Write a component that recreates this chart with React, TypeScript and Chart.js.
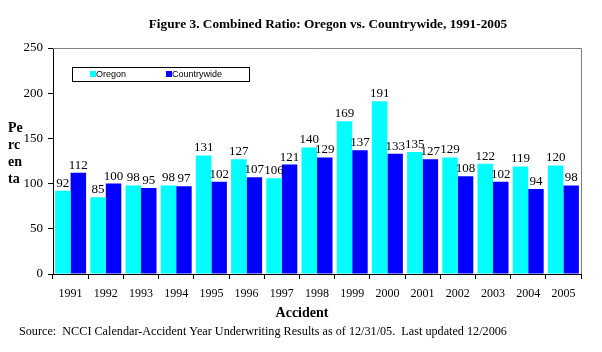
import React, { useEffect, useRef } from "react";
import { Chart, registerables } from "chart.js";

Chart.register(...registerables);

const years = ["1991","1992","1993","1994","1995","1996","1997","1998","1999","2000","2001","2002","2003","2004","2005"];
const oregon = [92, 85, 98, 98, 131, 127, 106, 140, 169, 191, 135, 129, 122, 119, 120];
const countrywide = [112, 100, 95, 97, 102, 107, 121, 129, 137, 133, 127, 108, 102, 94, 98];
const yTicks = [0, 50, 100, 150, 200, 250];

const SERIF = "'Liberation Serif', 'Times New Roman', serif";
const SANS = "'Liberation Sans', Arial, sans-serif";

const decorPlugin = {
  id: "decor",
  afterDatasetsDraw(chart: any) {
    const ctx = chart.ctx;
    const { left, right, top, bottom } = chart.chartArea;
    ctx.save();
    // grey border top/right
    ctx.strokeStyle = "#808080";
    ctx.lineWidth = 1;
    ctx.beginPath();
    ctx.moveTo(left, top + 0.5);
    ctx.lineTo(right + 0.5, top + 0.5);
    ctx.lineTo(right + 0.5, bottom);
    ctx.stroke();

    // data labels
    ctx.fillStyle = "#000";
    ctx.font = `13px ${SERIF}`;
    ctx.textAlign = "center";
    ctx.textBaseline = "bottom";
    chart.data.datasets.forEach((ds: any, di: number) => {
      const meta = chart.getDatasetMeta(di);
      meta.data.forEach((bar: any, i: number) => {
        ctx.fillText(String(ds.data[i]), bar.x, bar.y - 1);
      });
    });

    // title
    ctx.font = `bold 13.3px ${SERIF}`;
    ctx.textBaseline = "middle";
    ctx.fillText("Figure 3. Combined Ratio: Oregon vs. Countrywide, 1991-2005", 328, 25);

    // x title
    ctx.font = `bold 14px ${SERIF}`;
    ctx.fillText("Accident", 302, 313);

    // y title
    ctx.textAlign = "left";
    ctx.font = `bold 14px ${SERIF}`;
    ["Pe", "rc", "en", "ta"].forEach((t, i) => {
      ctx.fillText(t, 8, 128 + i * 17);
    });

    // source
    ctx.font = `12.2px ${SERIF}`;
    ctx.fillText("Source:  NCCI Calendar-Accident Year Underwriting Results as of 12/31/05.  Last updated 12/2006", 19, 332);

    // legend
    ctx.fillStyle = "#fff";
    ctx.fillRect(72, 67, 177, 14);
    ctx.strokeStyle = "#000";
    ctx.strokeRect(72.5, 67.5, 177, 14);
    ctx.fillStyle = "#00FFFF";
    ctx.fillRect(90, 71, 6, 6);
    ctx.fillStyle = "#0000FF";
    ctx.fillRect(166, 71, 6, 6);
    ctx.fillStyle = "#000";
    ctx.font = `9px ${SANS}`;
    ctx.textBaseline = "middle";
    ctx.fillText("Oregon", 96, 74.5);
    ctx.fillText("Countrywide", 172, 74.5);
    ctx.restore();
  },
};

export default function App() {
  const ref = useRef<HTMLCanvasElement>(null);
  useEffect(() => {
    const chart = new Chart(ref.current!, {
      type: "bar",
      data: {
        labels: years,
        datasets: [
          { label: "Oregon", data: oregon, backgroundColor: "#00FFFF", barPercentage: 1.0, categoryPercentage: 0.88 },
          { label: "Countrywide", data: countrywide, backgroundColor: "#0000FF", barPercentage: 1.0, categoryPercentage: 0.88 },
        ],
      },
      options: {
        responsive: false,
        animation: false,
        layout: { padding: { left: 0, top: 48, right: 21, bottom: 0 } },
        plugins: { legend: { display: false }, title: { display: false }, tooltip: { enabled: false } },
        scales: {
          x: {
            grid: { offset: true, drawOnChartArea: false, color: "#000", tickLength: 5 },
            border: { color: "#000" },
            ticks: { color: "#000", font: { family: SERIF, size: 12 }, padding: 8, maxRotation: 0, autoSkip: false },
            afterFit(scale: any) { scale.height = 78; },
          },
          y: {
            min: 0,
            max: 250,
            afterBuildTicks(scale: any) { scale.ticks = yTicks.map((v) => ({ value: v })); },
            grid: { drawOnChartArea: false, color: "#000", tickLength: 5 },
            border: { color: "#000" },
            ticks: { color: "#000", font: { family: SERIF, size: 13 }, padding: 5 },
            afterFit(scale: any) { scale.width = 53; },
          },
        },
      },
      plugins: [decorPlugin],
    } as any);
    return () => chart.destroy();
  }, []);
  return (
    <div style={{ position: "fixed", left: 0, top: 0, width: 602, height: 352, background: "#fff" }}>
      <canvas ref={ref} width={602} height={352} style={{ width: 602, height: 352 }} />
    </div>
  );
}
